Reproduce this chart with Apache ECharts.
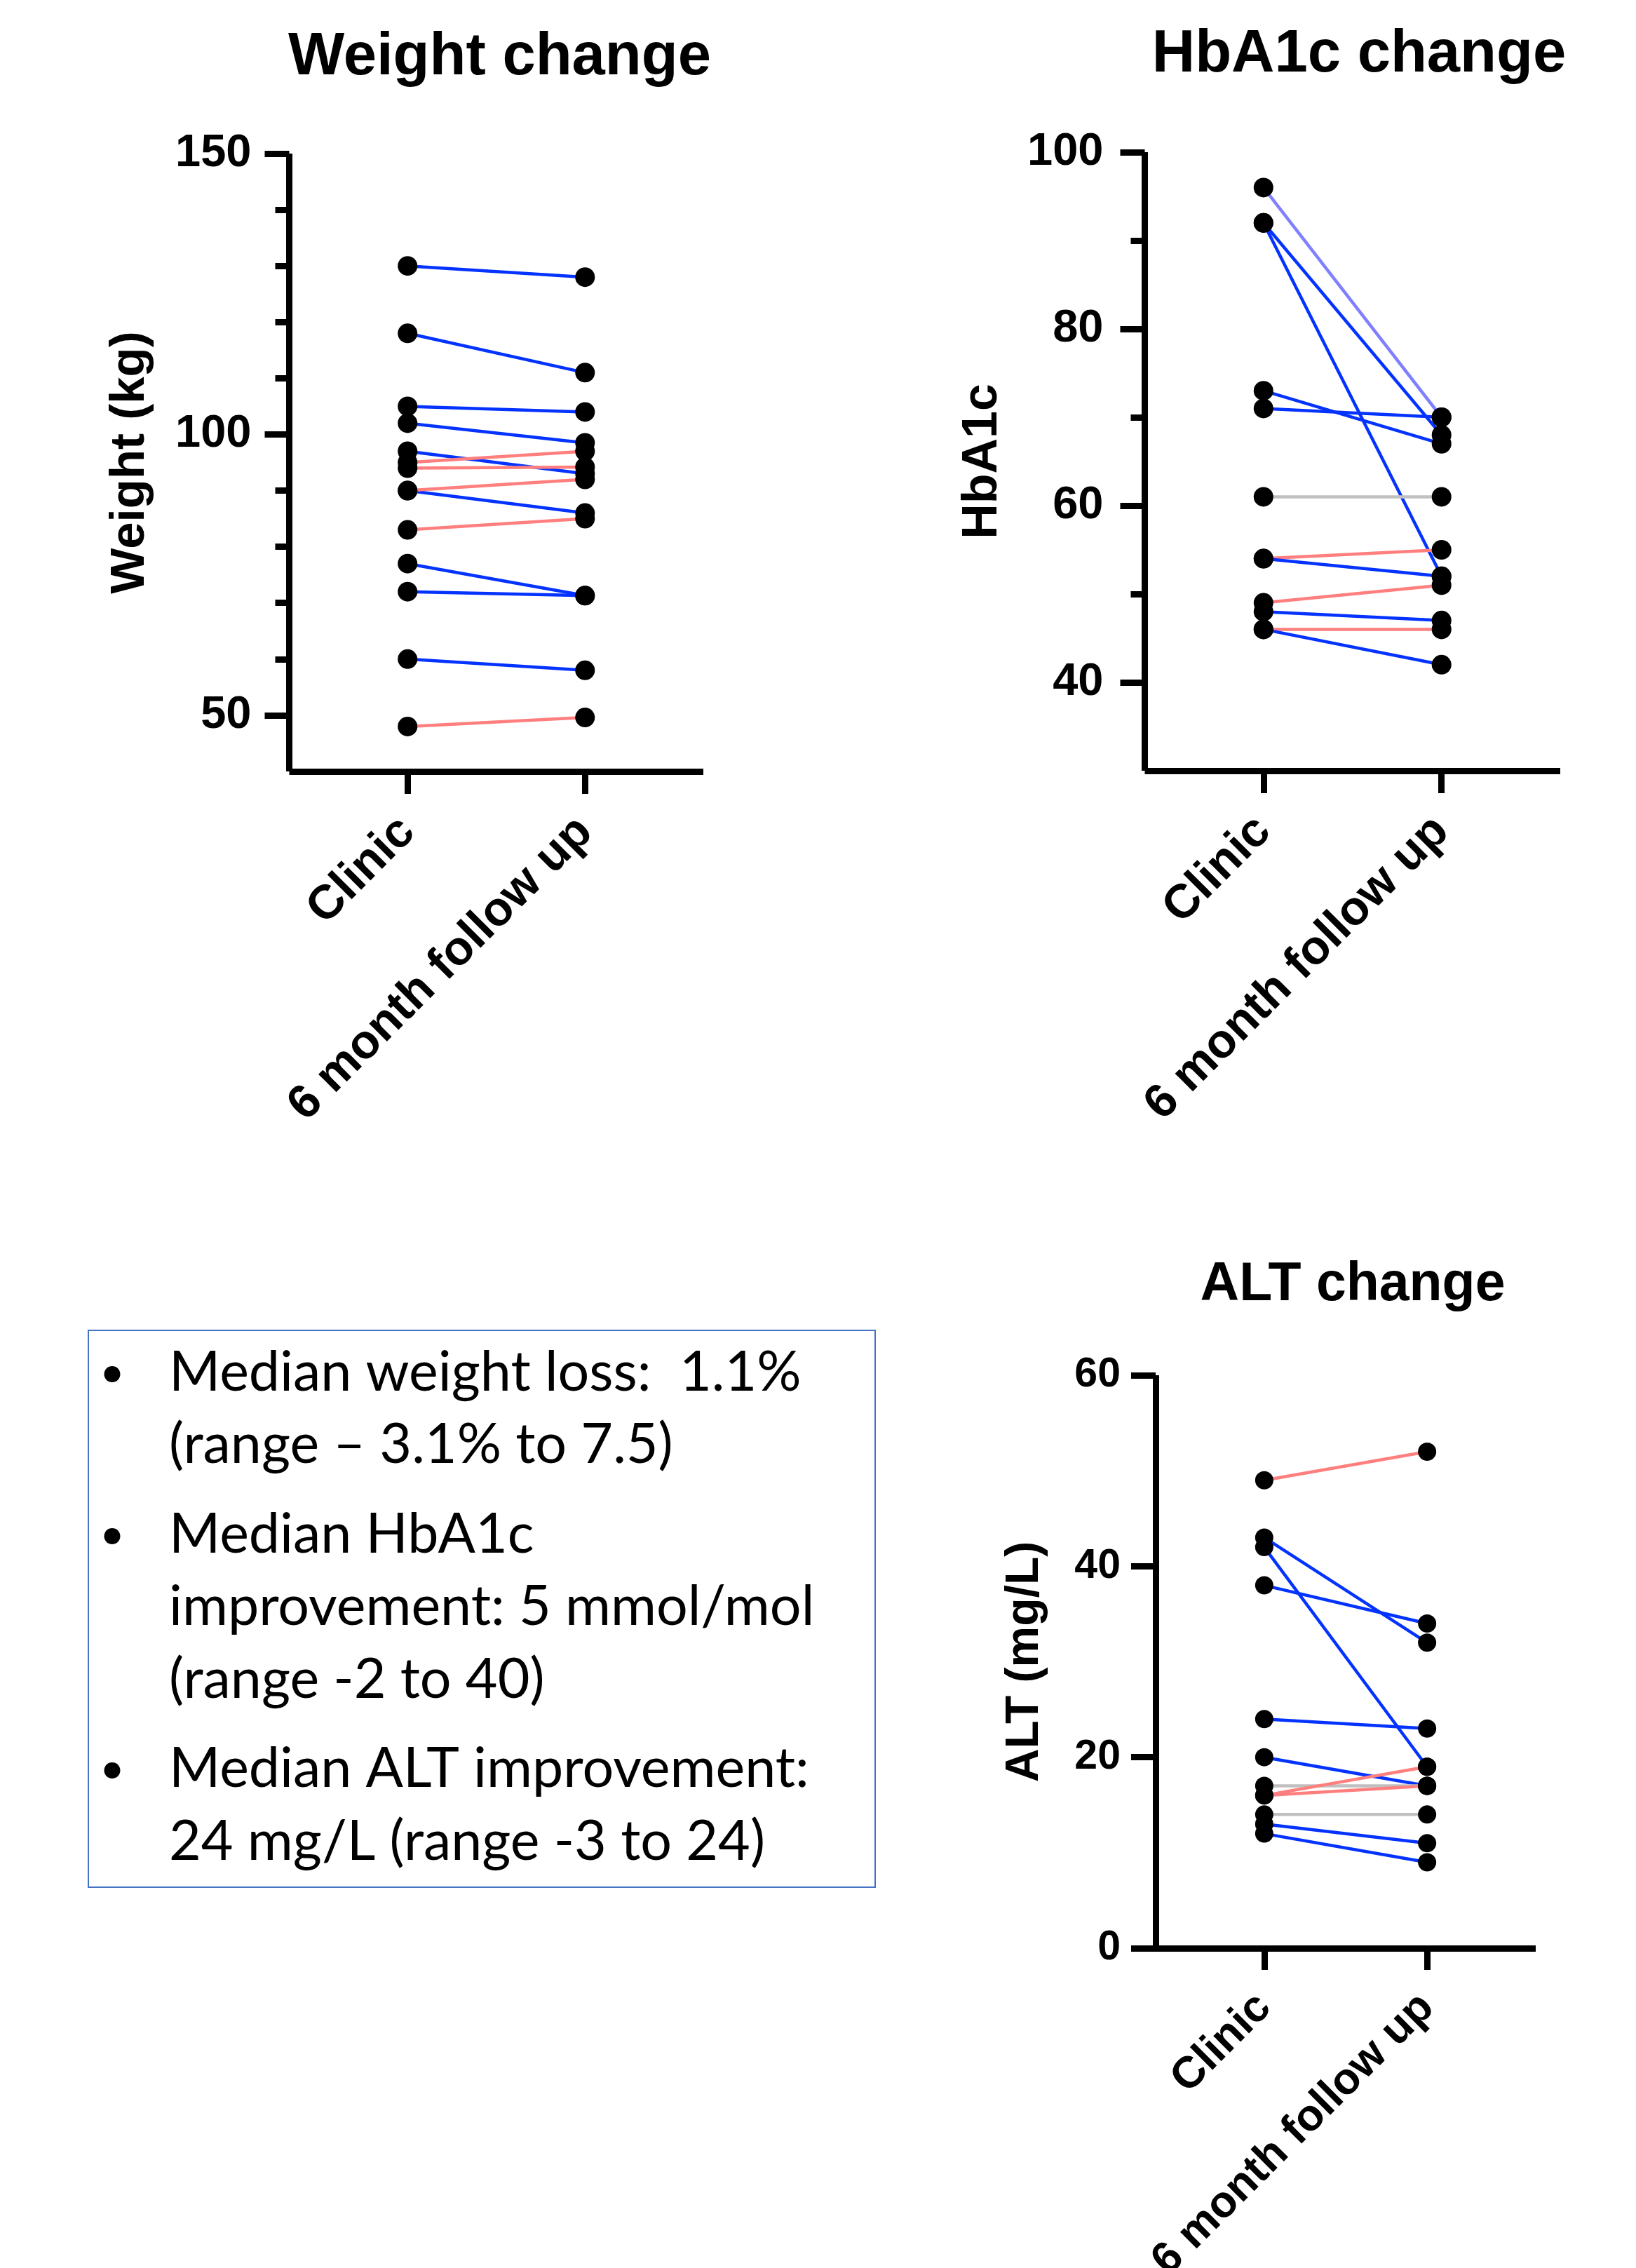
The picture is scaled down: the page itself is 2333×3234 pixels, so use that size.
<!DOCTYPE html>
<html><head><meta charset="utf-8">
<script src="https://cdn.jsdelivr.net/npm/echarts@6/dist/echarts.min.js"></script>
<style>html,body{margin:0;padding:0;background:#fff}#c{width:2333px;height:3234px}</style>
</head><body><div id="c"></div>
<script>
const categories = ['Clinic', '6 month follow up'];

const weightClinic = [130, 118, 105, 102, 97, 90, 77, 72, 60, 95, 94, 90, 83, 48];
const weightFollow = [128, 111, 104, 98.5, 93, 86, 71.3, 71.3, 58, 97, 94.2, 92, 85, 49.6];
const weightTrend  = ['down','down','down','down','down','down','down','down','down','up','up','up','up','up'];

const hba1cClinic = [96, 92, 92, 73, 71, 61, 54, 54, 49, 48, 46, 46];
const hba1cFollow = [70, 68, 52, 67, 70, 61, 55, 52, 51, 47, 46, 42];
const hba1cTrend  = ['downLight','down','down','down','down','same','up','down','up','down','up','down'];

const altClinic = [49, 43, 42, 38, 24, 20, 17, 16, 16, 14, 13, 12];
const altFollow = [52, 32, 19, 34, 23, 17, 17, 19, 17, 14, 11, 9];
const altTrend  = ['up','down','down','down','down','down','same','up','up','same','down','down'];

const weightTicks = [50, 100, 150];
const weightMinorTicks = [60, 70, 80, 90, 110, 120, 130, 140];
const hba1cTicks = [40, 60, 80, 100];
const hba1cMinorTicks = [50, 70, 90];
const altTicks = [0, 20, 40, 60];

const summaryParagraphs = [
  ['Median weight loss:  1.1%', '(range \u2013 3.1% to 7.5)'],
  ['Median HbA1c', 'improvement: 5 mmol/mol', '(range -2 to 40)'],
  ['Median ALT improvement:', '24 mg/L (range -3 to 24)']
];

const trendColors = { down: '#0433FF', downLight: '#8080FF', up: '#FF7F7F', same: '#C0C0C0' };
const FONT = '"Liberation Sans", Arial, sans-serif';

const panels = [
  { title: 'Weight change', yName: 'Weight (kg)', clinic: weightClinic, follow: weightFollow, trend: weightTrend,
    min: 40, max: 150, ticks: weightTicks, minor: weightMinorTicks,
    rect: { left: 412.5, top: 219, width: 590.5, height: 881 },
    titleX: 707.5, titleTop: 35, titleSize: 85, labelSize: 65, labelMargin: 54, nameSize: 69, nameGap: 192,
    catSize: 68, catMargin: 76, dot: 28, majorLen: 35, tickLen: 32 },
  { title: 'HbA1c change', yName: 'HbA1c', clinic: hba1cClinic, follow: hba1cFollow, trend: hba1cTrend,
    min: 30, max: 100, ticks: hba1cTicks, minor: hba1cMinorTicks,
    rect: { left: 1632.5, top: 217, width: 592.5, height: 882 },
    titleX: 1933, titleTop: 31, titleSize: 85, labelSize: 65, labelMargin: 59, nameSize: 70, nameGap: 196,
    catSize: 68, catMargin: 76, dot: 28, majorLen: 35, tickLen: 32 },
  { title: 'ALT change', yName: 'ALT (mg/L)', clinic: altClinic, follow: altFollow, trend: altTrend,
    min: 0, max: 60, ticks: altTicks, minor: [],
    rect: { left: 1648, top: 1961, width: 542, height: 817 },
    titleX: 1924, titleTop: 1789, titleSize: 77, labelSize: 59, labelMargin: 50, nameSize: 66, nameGap: 153,
    catSize: 63, catMargin: 75, dot: 26, majorLen: 35, tickLen: 31 }
];

const grid = [], xAxis = [], yAxis = [], series = [], title = [];
const axisLineStyle = { color: '#000', width: 9, cap: 'butt' };

panels.forEach(p => {
  const gi = grid.length;
  grid.push(Object.assign({ outerBoundsMode: 'none', containLabel: false }, p.rect));
  xAxis.push({
    type: 'value', gridIndex: gi, min: -2/3, max: 5/3,
    axisLine: { show: true, onZero: false, lineStyle: axisLineStyle },
    axisTick: { show: true, customValues: [0, 1], length: p.tickLen, lineStyle: { color: '#000', width: 9 } },
    axisLabel: { show: true, customValues: [0, 1], formatter: v => categories[Math.round(v)] || '',
      rotate: 45, margin: p.catMargin, fontSize: p.catSize, fontWeight: 'bold', color: '#000', fontFamily: FONT },
    splitLine: { show: false }
  });
  const xi = xAxis.length - 1;
  yAxis.push({
    type: 'value', gridIndex: gi, min: p.min, max: p.max,
    name: p.yName, nameLocation: 'middle', nameGap: p.nameGap,
    nameTextStyle: { fontSize: p.nameSize, fontWeight: 'bold', color: '#000', fontFamily: FONT },
    axisLine: { show: true, onZero: false, lineStyle: axisLineStyle },
    axisTick: { show: true, customValues: p.ticks, length: p.majorLen, lineStyle: { color: '#000', width: 9 } },
    axisLabel: { show: true, customValues: p.ticks, margin: p.labelMargin, fontSize: p.labelSize,
      fontWeight: 'bold', color: '#000', fontFamily: FONT },
    splitLine: { show: false }
  });
  const yi = yAxis.length - 1;

  if (p.minor.length) {
    const g2 = grid.length;
    grid.push(Object.assign({ outerBoundsMode: 'none', containLabel: false }, p.rect));
    xAxis.push({ type: 'value', gridIndex: g2, min: -2/3, max: 5/3, show: false,
      axisLine: { show: false, onZero: false } });
    yAxis.push({
      type: 'value', gridIndex: g2, min: p.min, max: p.max, position: 'left',
      axisLine: { show: false, onZero: false },
      axisTick: { show: true, customValues: p.minor, length: 20, lineStyle: { color: '#000', width: 9 } },
      axisLabel: { show: false }, splitLine: { show: false }
    });
  }

  p.clinic.forEach((c, k) => {
    series.push({
      type: 'line', xAxisIndex: xi, yAxisIndex: yi, data: [[0, c], [1, p.follow[k]]],
      symbol: 'none', silent: true, animation: false, z: 2,
      lineStyle: { color: trendColors[p.trend[k]], width: 4.5 }
    });
  });
  const pts = [];
  p.clinic.forEach((c, k) => { pts.push([0, c]); pts.push([1, p.follow[k]]); });
  series.push({
    type: 'scatter', xAxisIndex: xi, yAxisIndex: yi, data: pts, symbol: 'circle', symbolSize: p.dot,
    itemStyle: { color: '#000', opacity: 1 }, z: 5, silent: true, animation: false
  });

  title.push({
    text: p.title, left: p.titleX, top: p.titleTop, textAlign: 'center',
    textStyle: { fontSize: p.titleSize, fontWeight: 'bold', color: '#000', fontFamily: FONT }
  });
});

// summary box
const graphic = [{
  type: 'rect', shape: { x: 126, y: 1897, width: 1122, height: 794 },
  style: { fill: 'none', stroke: '#4472C4', lineWidth: 2 }, z: 10
}];
let ly = 1957.5;
summaryParagraphs.forEach((para, pi) => {
  if (pi > 0) ly += 24;
  para.forEach((line, li) => {
    if (li === 0) {
      graphic.push({ type: 'text', x: 160, y: ly, z: 10,
        style: { text: '\u2022', font: '62px Lato', fill: '#000', verticalAlign: 'middle', align: 'center' } });
    }
    graphic.push({ type: 'text', x: 241, y: ly, z: 10,
      style: { text: line, font: '79px Lato', fill: '#000', verticalAlign: 'middle', align: 'left' } });
    ly += 103.5;
  });
});

const chart = echarts.init(document.getElementById('c'), null, { renderer: 'canvas' });
chart.setOption({
  backgroundColor: '#fff',
  animation: false,
  textStyle: { fontFamily: FONT },
  title, grid, xAxis, yAxis, series, graphic
});
</script></body></html>
